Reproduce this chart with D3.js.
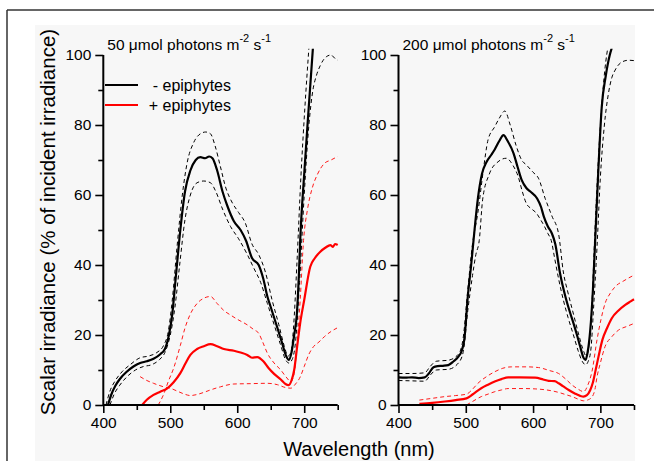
<!DOCTYPE html>
<html>
<head>
<meta charset="utf-8">
<script src="https://cdn.jsdelivr.net/npm/d3@7"></script>
<style>
  html, body { margin: 0; padding: 0; background: #ffffff; }
  svg { display: block; }
  text { font-family: "Liberation Sans", Arial, sans-serif; fill: #000; }
</style>
</head>
<body>
<svg id="chart" width="654" height="461"></svg>
<script>
// ---------------- DATA ----------------
const xTicks = [400, 500, 600, 700];
const xMinorTicks = [450, 550, 650, 750];
const yTicks = [0, 20, 40, 60, 80, 100];
const yMinorTicks = [10, 30, 50, 70, 90];
const panelTitles = ["50 μmol photons m", "200 μmol photons m"];
const legendLabels = ["- epiphytes", "+ epiphytes"];
const xLabel = "Wavelength (nm)";
const yLabel = "Scalar irradiance (% of incident irradiance)";

// 50 µmol photons: - epiphytes (mean, upper, lower)
const low_noEpi_mean = [[407,0],[412,3],[418,5.5],[425,7.5],[435,9.5],[445,11],[455,12],[465,12.5],[475,13.2],[485,14.5],[492,16],[498,20],[503,26],[508,36],[515,50],[522,61],[530,67],[538,70],[545,70.8],[552,70.5],[558,71],[563,70.5],[570,67],[578,61],[585,57],[595,52.5],[605,50],[613,47],[622,42],[632,40],[639,36],[645,31],[650,28],[660,22],[667,17.7],[673,14],[677,12.9],[681,15],[685,20],[689,26],[692,37],[694,47],[700,66],[706,83],[713,102]];
const low_noEpi_up = [[404,0],[410,4],[418,7],[428,9.5],[440,11.5],[455,13.5],[468,14],[480,15],[490,17],[497,21],[503,30],[510,45],[518,60],[525,69],[535,75],[545,77.5],[553,78],[560,77.5],[567,74],[575,68],[583,62],[592,58],[602,55],[612,52],[622,46],[632,43],[642,38],[652,30],[662,23],[670,17],[676,14],[680,15],[684,22],[689,40],[695,65],[701,85],[707,102]];
const low_noEpi_lo = [[410,0],[416,3],[424,5.5],[435,8],[448,10],[460,11],[472,11.5],[484,13],[492,15],[500,20],[507,28],[514,40],[522,53],[530,60],[540,63.5],[550,64],[560,63.5],[568,61],[578,56],[590,51],[602,47.5],[615,43],[625,39],[635,35],[645,29],[655,23],[665,17],[672,13],[677,12],[682,13],[687,18],[693,35],[700,60],[707,80],[713,90],[718,94],[724,97],[733,99.5],[740,100],[746,99],[750,98.5]];
// 50 µmol photons: + epiphytes
const low_epi_mean = [[458,0],[465,1.5],[475,2.9],[485,3.8],[495,4.7],[505,6.5],[515,9.1],[523,12],[530,14.3],[540,16],[550,16.8],[560,17.4],[570,16.8],[580,16],[595,15.5],[605,15],[615,14.3],[622,13.5],[630,13.7],[639,12.5],[647,10.5],[655,8.9],[665,7.3],[672,6],[677,5.7],[681,7],[685,10],[689,16],[694,23.4],[700,30],[709,39.5],[716,42],[724,43.8],[732,45],[739,45.7],[743,45.2],[746,46],[750,45.7]];
const low_epi_up = [[482,0],[490,3],[497,6.7],[505,10.5],[515,17],[522,22],[530,26],[540,29],[550,30.5],[560,31],[570,29],[580,27],[590,25.7],[600,24.5],[615,22.9],[625,21.5],[632,20.5],[638,18],[645,14.8],[655,12],[665,10],[673,8],[680,6.7],[685,9],[689,16.7],[694,30],[699,47],[705,56],[712,62],[720,66],[730,69],[740,70],[750,71]];
const low_epi_lo = [[455,8.1],[465,7],[475,6.2],[482,5.7],[490,5.2],[500,4.8],[510,4],[520,3.2],[530,2.7],[540,3],[550,3.6],[560,4.3],[575,5.2],[595,6],[620,6.1],[645,6.2],[660,5.8],[672,5],[680,4.8],[687,6],[694,8],[700,11],[707,14.5],[714,16.7],[722,18],[730,19.5],[740,21],[749,22]];

// 200 µmol photons: - epiphytes
const high_noEpi_mean = [[400,7.9],[410,7.8],[420,7.9],[430,7.7],[439,7.9],[445,9],[452,10.8],[458,11.1],[466,11.2],[474,11.4],[482,12.5],[489,13.8],[494,15.5],[498,19],[503,31],[508,40],[513,50],[518,59],[524,66],[531,69.5],[538,71.5],[543,73],[550,75.5],[556,77.1],[562,75.5],[571,71.9],[577,68],[583,64.3],[590,62],[596,61],[606,59],[612,56.5],[616,53.8],[622,51],[628,49],[633,46],[640,37.7],[648,31],[654,27],[660,23.4],[666,19.5],[670,16.7],[675,13.5],[678,12.9],[681,15],[685,21.4],[689,33],[693,50],[697,67],[702,85],[708,94],[714,100],[717,102]];
const high_noEpi_up = [[400,9],[420,9],[439,9.2],[447,11],[456,12.5],[474,12.8],[489,14.5],[496,19],[503,33],[510,46],[518,55],[526,67],[533,75.7],[543,79.5],[550,82],[558,84],[566,80],[575,74],[583,70],[590,68.6],[600,66.5],[608,64.8],[618,59],[628,54],[638,48.8],[645,38],[652,32],[660,26],[668,20],[674,16],[679,14],[683,17],[687,27],[692,50],[697,70],[703,88],[708,98],[711,102]];
const high_noEpi_lo = [[400,7],[420,6.9],[439,6.8],[447,8.5],[456,10],[474,10.2],[489,12],[496,15],[503,27],[510,37],[515,43],[520,47],[525,58.6],[535,66],[548,69.5],[560,70.5],[570,68.5],[578,65.2],[584,61],[590,57.6],[598,56],[605,54.8],[611,53],[617,51],[622,49],[627,47],[632,42],[638,36],[645,30],[652,25],[660,20],[667,15.5],[673,12.5],[678,11.5],[682,12.5],[686,16],[690,28],[695,45],[700,65],[706,80],[712,89],[717,93.5],[722,95.7],[732,98],[742,98.5],[750,98.4]];
// 200 µmol photons: + epiphytes
const high_epi_mean = [[431,0.3],[450,0.6],[469,1],[485,1.4],[501,1.9],[510,3],[523,4.8],[533,5.8],[543,6.7],[553,7.4],[563,7.9],[580,7.9],[603,7.8],[615,7.3],[623,6.9],[632,6.8],[638,6.2],[645,5.3],[653,4.3],[662,3.3],[670,2.6],[675,2.4],[680,2.8],[685,4.3],[689,6.5],[693,10],[698,14.5],[703,18.6],[710,22],[717,24.8],[727,27],[737,28.6],[745,29.6],[750,30.2]];
const high_epi_up = [[431,1.4],[450,1.9],[469,2.4],[485,2.7],[501,3.1],[510,4.5],[518,6.2],[530,8],[543,9.5],[555,10.5],[568,10.9],[590,10.9],[608,10.7],[625,9.8],[638,9],[648,7.5],[658,5.7],[668,4.4],[675,3.8],[681,5.5],[688,10],[695,18.6],[701,24.5],[707,29],[715,32],[722,33.8],[735,35.5],[750,37.1]];
const high_epi_lo = [[501,0],[510,1],[523,2.4],[533,3.1],[543,3.8],[553,4.3],[563,4.7],[585,4.7],[603,4.6],[620,4.3],[638,3.6],[648,3],[658,2.4],[668,1.6],[675,1.2],[682,1.5],[688,2.4],[692,4.5],[695,8],[700,12],[707,16.7],[717,19.5],[727,21.4],[740,22.5],[750,23.3]];

// ---------------- DRAW ----------------
const svg = d3.select("#chart");

// background / frame
svg.append("rect").attr("x", 35).attr("y", 25).attr("width", 600).attr("height", 436).attr("fill", "#f7f7f7");
svg.append("line").attr("x1", 7).attr("x2", 654).attr("y1", 10).attr("y2", 10).attr("stroke", "#333").attr("stroke-width", 1.5);
svg.append("line").attr("x1", 7).attr("x2", 7).attr("y1", 10).attr("y2", 461).attr("stroke", "#333").attr("stroke-width", 1.5);

const panels = [
  { x0: 103.3, x1: 337.7, series: [low_noEpi_up, low_noEpi_lo, low_noEpi_mean, low_epi_up, low_epi_lo, low_epi_mean], title: panelTitles[0] },
  { x0: 398.5, x1: 634, series: [high_noEpi_up, high_noEpi_lo, high_noEpi_mean, high_epi_up, high_epi_lo, high_epi_mean], title: panelTitles[1] }
];
const styles = [
  { c: "#000", w: 1, d: "4,3" }, { c: "#000", w: 1, d: "4,3" }, { c: "#000", w: 2.2, d: null },
  { c: "#ff1a1a", w: 1, d: "4,3" }, { c: "#ff1a1a", w: 1, d: "4,3" }, { c: "#ff0000", w: 2.2, d: null }
];

const y = d3.scaleLinear().domain([0, 100]).range([405, 55]);

panels.forEach((p, i) => {
  const x = d3.scaleLinear().domain([400, 750]).range([p.x0, p.x1]);
  const g = svg.append("g");

  const clipId = "clip" + i;
  svg.append("clipPath").attr("id", clipId).append("rect")
    .attr("x", p.x0).attr("y", y(101.8)).attr("width", p.x1 - p.x0 + 2).attr("height", y(0) - y(101.8));

  const line = d3.line().x(d => x(d[0])).y(d => y(d[1])).curve(d3.curveMonotoneX);
  const lg = g.append("g").attr("clip-path", `url(#${clipId})`);
  p.series.forEach((s, k) => {
    lg.append("path").datum(s).attr("d", line)
      .attr("fill", "none").attr("stroke", styles[k].c).attr("stroke-width", styles[k].w)
      .attr("stroke-dasharray", styles[k].d).attr("stroke-linejoin", "round");
  });

  // axes
  const xAxis = g.append("g").attr("transform", `translate(0,${y(0)})`)
    .call(d3.axisBottom(x).tickValues(xTicks).tickSize(8).tickPadding(4).tickFormat(d3.format("d")));
  const xMinor = g.append("g").attr("transform", `translate(0,${y(0)})`)
    .call(d3.axisBottom(x).tickValues(xMinorTicks).tickSize(5).tickFormat(""));
  const yAxis = g.append("g").attr("transform", `translate(${p.x0},0)`)
    .call(d3.axisLeft(y).tickValues(yTicks).tickSize(8).tickPadding(4).tickFormat(d3.format("d")));
  const yMinor = g.append("g").attr("transform", `translate(${p.x0},0)`)
    .call(d3.axisLeft(y).tickValues(yMinorTicks).tickSize(5).tickFormat(""));

  [xAxis, xMinor, yAxis, yMinor].forEach(a => {
    a.select(".domain").attr("stroke", "#000").attr("stroke-width", 2);
    a.selectAll(".tick line").attr("stroke", "#000").attr("stroke-width", 1.6);
    a.selectAll(".tick text").style("font-family", '"Liberation Sans", Arial, sans-serif').style("font-size", "15.5px").attr("fill", "#000");
  });
  yAxis.select(".domain").attr("d", `M0,${y(0)}V${y(100)}`);
  yMinor.select(".domain").remove();
  xMinor.select(".domain").remove();
  xAxis.select(".domain").attr("d", `M${p.x0},0H${p.x1}`);

  // title
  const t = g.append("text").attr("x", p.x0 + 4).attr("y", 50).style("font-size", "15.5px");
  t.append("tspan").text(p.title);
  t.append("tspan").attr("dy", -8).style("font-size", "11px").text("-2");
  t.append("tspan").attr("dy", 8).text(" s");
  t.append("tspan").attr("dy", -8).style("font-size", "11px").text("-1");
});

// legend
const legendColors = ["#000", "#ff0000"];
const legendY = [85, 105];
legendLabels.forEach((lab, i) => {
  svg.append("line").attr("x1", 105).attr("x2", 138).attr("y1", legendY[i]).attr("y2", legendY[i])
    .attr("stroke", legendColors[i]).attr("stroke-width", 2.2);
  svg.append("text").attr("x", 231).attr("y", legendY[i] + 6).attr("text-anchor", "end")
    .style("font-size", "16px").text(lab);
});

// axis labels
svg.append("text").attr("x", 359).attr("y", 456).attr("text-anchor", "middle")
  .style("font-size", "20px").text(xLabel);
svg.append("text").attr("transform", "translate(55,222) rotate(-90)").attr("text-anchor", "middle")
  .style("font-size", "20.5px").text(yLabel);
</script>
</body>
</html>
